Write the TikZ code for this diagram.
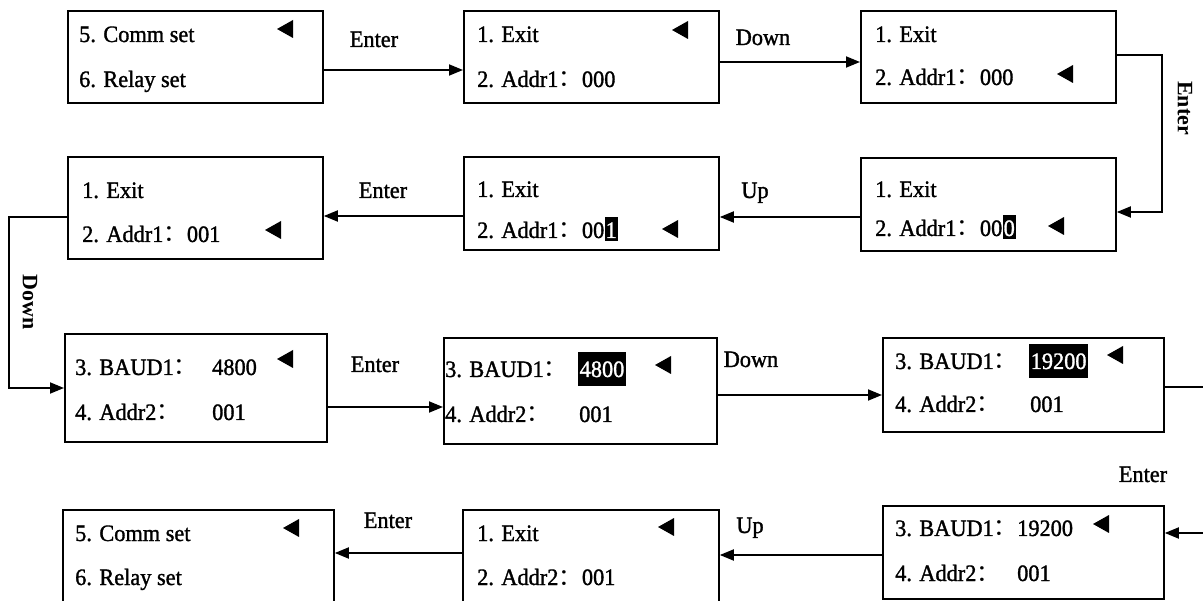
\documentclass[tikz,border=0pt]{standalone}
\usepackage{fontspec}
\setmainfont[FakeBold=1.3,FakeStretch=0.95]{Liberation Serif}
\newfontfamily\cjk{Noto Sans CJK SC}
\newfontfamily\vlfont{Liberation Serif}
\usetikzlibrary{arrows.meta}
\newcommand\menufont{\fontsize{23.5pt}{27pt}\selectfont}
\newcommand\vfont{\vlfont\bfseries\fontsize{22pt}{26pt}\selectfont}
\newcommand\cln{{\cjk ：}}
\newcommand\mtri[2]{\fill (#1,#2) -- ++(16,-9) -- ++(0,18) -- cycle;}
\begin{document}
\begin{tikzpicture}[x=1pt,y=-1pt,
  box/.style={draw, line width=1.8pt, anchor=north west, inner sep=0pt},
  txt/.style={anchor=base west, inner sep=0pt, font=\menufont},
  lbl/.style={anchor=base, inner sep=0pt, font=\menufont},
  vlbl/.style={anchor=center, inner sep=0pt, rotate=-90, font=\vfont},
  hl/.style={fill=black, text=white, anchor=base west, inner xsep=1.5pt, inner ysep=0pt, font=\menufont},
  hlbig/.style={hl, text height=25pt, text depth=9pt},
  hlsmall/.style={hl, text height=21pt, text depth=3pt},
  arr/.style={line width=1.8pt, -{Triangle[length=14pt,width=11pt]}}]
\useasboundingbox (0,0) rectangle (1203,601);
\fill[white] (0,0) rectangle (1203,601);
\clip (0,0) rectangle (1203,601);

% ---------- row 1 ----------
\node[box, minimum width=255pt, minimum height=92pt] (A) at (67,10) {};
\node[txt] (A1) at (79,42) {5. Comm set};
\node[txt] (A2) at (79,87) {6. Relay set};
\mtri{277}{29}

\node[box, minimum width=255pt, minimum height=92pt] (B) at (463,10) {};
\node[txt] (B1) at (477,42) {1. Exit};
\node[txt] (B2) at (477,87) {2. Addr1\cln 000};
\mtri{672}{30}

\node[box, minimum width=255pt, minimum height=92pt] (C) at (860,10) {};
\node[txt] (C1) at (875,42) {1. Exit};
\node[txt] (C2) at (875,85) {2. Addr1\cln 000};
\mtri{1057}{74}

% ---------- row 2 ----------
\node[box, minimum width=255pt, minimum height=102pt] (D) at (67,156) {};
\node[txt] (D1) at (82,198) {1. Exit};
\node[txt] (D2) at (82,242) {2. Addr1\cln 001};
\mtri{265}{230}

\node[box, minimum width=255pt, minimum height=93pt] (E) at (463,156) {};
\node[txt] (E1) at (477,197) {1. Exit};
\node[txt] (E2) at (477,238) {2. Addr1\cln 00};
\node[hlsmall, inner xsep=1pt] (E2h) at (E2.base east) {1};
\mtri{662}{229}

\node[box, minimum width=255pt, minimum height=93pt] (F) at (860,157) {};
\node[txt] (F1) at (875,197) {1. Exit};
\node[txt] (F2) at (875,236) {2. Addr1\cln 00};
\node[hlsmall, inner xsep=1pt] (F2h) at (F2.base east) {0};
\mtri{1048}{226}

% ---------- row 3 ----------
\node[box, minimum width=262pt, minimum height=108pt] (G) at (64,333) {};
\node[txt] (G1) at (75,375) {3. BAUD1\cln};
\node[txt] (G1v) at (212,375) {4800};
\node[txt] (G2) at (75,420) {4. Addr2\cln};
\node[txt] (G2v) at (212,420) {001};
\mtri{277}{359}

\node[box, minimum width=273pt, minimum height=106pt] (H) at (443,337) {};
\node[txt] (H1) at (445,377) {3. BAUD1\cln};
\node[hlbig] (H1v) at (578,377) {4800};
\node[txt] (H2) at (445,422) {4. Addr2\cln};
\node[txt] (H2v) at (579,422) {001};
\mtri{655}{365}

\node[box, minimum width=281pt, minimum height=94pt] (I) at (882,337) {};
\node[txt] (I1) at (895,369) {3. BAUD1\cln};
\node[hlbig] (I1v) at (1029,369) {19200};
\node[txt] (I2) at (895,412) {4. Addr2\cln};
\node[txt] (I2v) at (1030,412) {001};
\mtri{1107}{355}

% ---------- row 4 ----------
\node[box, minimum width=281pt, minimum height=93pt] (J) at (882,505) {};
\node[txt] (J1) at (895,536) {3. BAUD1\cln};
\node[txt] (J1v) at (1017,536) {19200};
\node[txt] (J2) at (895,581) {4. Addr2\cln};
\node[txt] (J2v) at (1017,581) {001};
\mtri{1093}{524}

\node[box, minimum width=256pt, minimum height=111pt] (K) at (462,509) {};
\node[txt] (K1) at (477,541) {1. Exit};
\node[txt] (K2) at (477,585) {2. Addr2\cln 001};
\mtri{658}{527}

\node[box, minimum width=271pt, minimum height=111pt] (L) at (62,509) {};
\node[txt] (L1) at (75,541) {5. Comm set};
\node[txt] (L2) at (75,585) {6. Relay set};
\mtri{283}{528}

% ---------- connectors ----------
\draw[arr] (A.east |- 0,70) -- (B.west |- 0,70);
\node[lbl] (lAB) at (374,47) {Enter};

\draw[arr] (B.east |- 0,62) -- (C.west |- 0,62);
\node[lbl] (lBC) at (763,45) {Down};

\draw[arr] (C.east |- 0,55) -- (1162,55) -- (1162,212) -- (F.east |- 0,212);
\node[vlbl] (lCF) at (1185,108) {Enter};

\draw[arr] (F.west |- 0,217) -- (E.east |- 0,217);
\node[lbl] (lFE) at (755,198) {Up};

\draw[arr] (E.west |- 0,216) -- (D.east |- 0,216);
\node[lbl] (lED) at (383,198) {Enter};

\draw[arr] (D.west |- 0,217) -- (9,217) -- (9,388) -- (G.west |- 0,388);
\node[vlbl] (lDG) at (30,302) {Down};

\draw[arr] (G.east |- 0,407) -- (H.west |- 0,407);
\node[lbl] (lGH) at (375,372) {Enter};

\draw[arr] (H.east |- 0,395) -- (I.west |- 0,395);
\node[lbl] (lHI) at (751,367) {Down};

\draw[arr] (I.east |- 0,387) -- (1215,387) -- (1215,533) -- (J.east |- 0,533);
\node[lbl] (lIJ) at (1143,482) {Enter};

\draw[arr] (J.west |- 0,555) -- (K.east |- 0,555);
\node[lbl] (lJK) at (750,533) {Up};

\draw[arr] (K.west |- 0,553) -- (L.east |- 0,553);
\node[lbl] (lKL) at (388,528) {Enter};
\end{tikzpicture}
\end{document}
